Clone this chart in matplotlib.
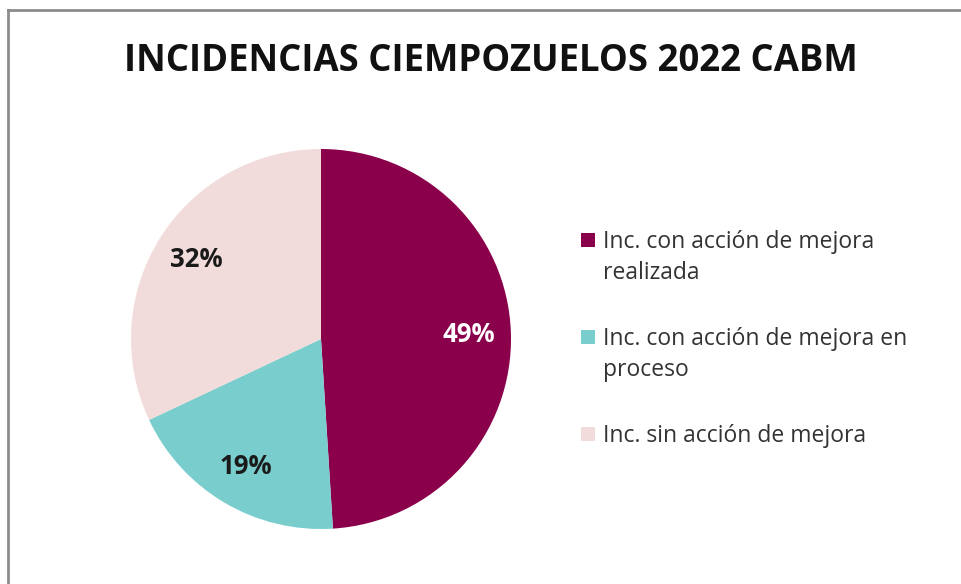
import matplotlib.pyplot as plt
from matplotlib.lines import Line2D
from matplotlib.patches import Rectangle

# data
labels = ['Inc. con acción de mejora\nrealizada',
          'Inc. con acción de mejora en\nproceso',
          'Inc. sin acción de mejora']
values = [49, 19, 32]
colors = ['#8B004B', '#79CDCD', '#F2DCDB']
pct_colors = ['white', '#1a1a1a', '#1a1a1a']
title = 'INCIDENCIAS CIEMPOZUELOS 2022 CABM'

plt.rcParams['font.family'] = ['Open Sans', 'DejaVu Sans']

W, H = 961, 584
fig = plt.figure(figsize=(W/100, H/100), dpi=100)

# pie axes: centre (321,339), radius 190 px
ax = fig.add_axes([131/W, (H-529)/H, 380/W, 380/H])
wedges, texts, autotexts = ax.pie(values, colors=colors, startangle=90, counterclock=False,
                                  autopct='%d%%', pctdistance=0.78,
                                  radius=1, wedgeprops=dict(linewidth=0))
for t, c in zip(autotexts, pct_colors):
    t.set_color(c)
    t.set_fontsize(18.5)
    t.set_fontweight('bold')
ax.set_xlim(-1, 1)
ax.set_ylim(-1, 1)
ax.set_aspect('equal')

fig.text(491/W, 1-61/H, title, ha='center', va='center', fontsize=26.3, fontweight='bold', color='#111111')

# legend, laid out by hand so the key sits on the first line of each entry
baselines = [248, 345, 442]
line_gap = 31
for w, lab, yb in zip(wedges, labels, baselines):
    fig.add_artist(Rectangle((581/W, (H-yb+1)/H), 14/W, 14/H, transform=fig.transFigure,
                             facecolor=w.get_facecolor(), edgecolor='none'))
    for i, line in enumerate(lab.split('\n')):
        fig.text(603/W, (H-yb-i*line_gap)/H, line, ha='left', va='baseline',
                 fontsize=16.5, color='#333333')

# chart frame (top and left edges visible)
fig.add_artist(Line2D([8/W, 8/W], [0, 1-10/H], transform=fig.transFigure, color='#8c8c8c', lw=2))
fig.add_artist(Line2D([8/W, 1], [1-10/H, 1-10/H], transform=fig.transFigure, color='#8c8c8c', lw=2))

fig.savefig('out.png', dpi=100)
